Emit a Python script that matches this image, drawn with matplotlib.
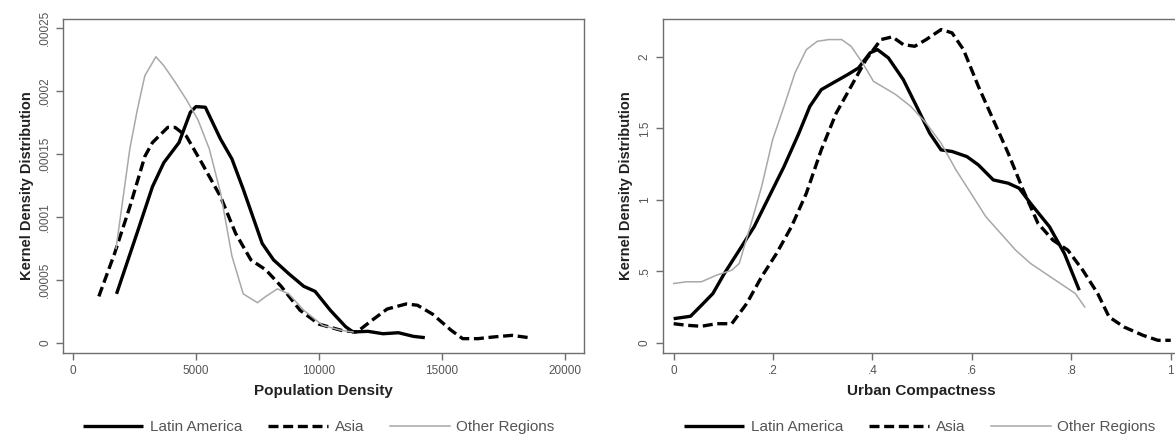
import matplotlib
matplotlib.use("Agg")
import matplotlib.pyplot as plt

plt.rcParams['font.family'] = ['Liberation Sans', 'DejaVu Sans']

# --- Population density (left panel) ---
pd_latin_x = [1770, 2600, 3230, 3690, 4310, 4770, 5000, 5380, 5990, 6460, 6920, 7690,
              8150, 8770, 9380, 9840, 10460, 11080, 11380, 11990, 12600, 13230, 13840, 14300]
pd_latin_y = [3.9e-5, 8.7e-5, 1.24e-4, 1.43e-4, 1.59e-4, 1.83e-4, 1.875e-4, 1.87e-4, 1.62e-4,
              1.46e-4, 1.22e-4, 7.9e-5, 6.6e-5, 5.5e-5, 4.5e-5, 4.1e-5, 2.6e-5, 1.3e-5, 8.8e-6,
              9.3e-6, 7.4e-6, 8.2e-6, 5.3e-6, 4.3e-6]

pd_asia_x = [1050, 1690, 2310, 2920, 3230, 3850, 4150, 4610, 5230, 6000, 6610, 7230, 7840,
             8460, 9230, 10000, 10920, 11540, 12150, 12770, 13540, 14000, 14610, 15380,
             15840, 16460, 17070, 17840, 18530]
pd_asia_y = [3.7e-5, 7.1e-5, 1.08e-4, 1.48e-4, 1.59e-4, 1.71e-4, 1.71e-4, 1.64e-4, 1.43e-4,
             1.16e-4, 8.7e-5, 6.6e-5, 5.8e-5, 4.5e-5, 2.6e-5, 1.5e-5, 1.0e-5, 8.8e-6, 1.8e-5,
             2.7e-5, 3.1e-5, 3.0e-5, 2.3e-5, 1.0e-5, 3.5e-6, 3.5e-6, 4.8e-6, 6.1e-6, 4.3e-6]

pd_other_x = [1750, 2310, 2615, 2920, 3370, 3690, 4150, 4610, 5080, 5540, 6000, 6460, 6920,
              7500, 7840, 8310, 8770, 9380, 10150, 10920, 11380]
pd_other_y = [7.5e-5, 1.54e-4, 1.85e-4, 2.12e-4, 2.27e-4, 2.2e-4, 2.07e-4, 1.93e-4, 1.77e-4,
              1.54e-4, 1.19e-4, 6.9e-5, 3.9e-5, 3.2e-5, 3.7e-5, 4.3e-5, 3.9e-5, 2.6e-5,
              1.4e-5, 1.0e-5, 8.8e-6]

pd_xticks = [0, 5000, 10000, 15000, 20000]
pd_yticks = [0, 0.00005, 0.0001, 0.00015, 0.0002, 0.00025]
pd_ylabels = ["0", ".00005", ".0001", ".00015", ".0002", ".00025"]

# --- Urban compactness (right panel) ---
uc_latin_x = [0, 0.034, 0.056, 0.079, 0.102, 0.132, 0.162, 0.192, 0.222, 0.252, 0.274, 0.297,
              0.320, 0.350, 0.372, 0.395, 0.410, 0.432, 0.462, 0.492, 0.515, 0.538, 0.560,
              0.590, 0.613, 0.643, 0.673, 0.695, 0.718, 0.756, 0.786, 0.816]
uc_latin_y = [0.17, 0.187, 0.264, 0.346, 0.486, 0.649, 0.813, 1.023, 1.233, 1.467, 1.654, 1.771,
              1.817, 1.876, 1.923, 2.028, 2.051, 1.993, 1.841, 1.631, 1.467, 1.350, 1.339,
              1.303, 1.245, 1.140, 1.117, 1.082, 0.976, 0.813, 0.626, 0.369]

uc_asia_x = [0, 0.026, 0.056, 0.086, 0.117, 0.147, 0.177, 0.207, 0.237, 0.267, 0.297, 0.327,
             0.357, 0.387, 0.417, 0.440, 0.462, 0.485, 0.508, 0.538, 0.560, 0.583, 0.613,
             0.643, 0.673, 0.703, 0.733, 0.763, 0.793, 0.823, 0.853, 0.876, 0.906, 0.944,
             0.974, 1.0]
uc_asia_y = [0.135, 0.124, 0.117, 0.135, 0.135, 0.276, 0.463, 0.626, 0.813, 1.047, 1.350, 1.607,
             1.794, 1.981, 2.121, 2.140, 2.086, 2.074, 2.121, 2.191, 2.168, 2.051, 1.794,
             1.560, 1.327, 1.070, 0.836, 0.719, 0.649, 0.509, 0.346, 0.182, 0.112, 0.054,
             0.019, 0.019]

uc_other_x = [0, 0.026, 0.056, 0.086, 0.117, 0.132, 0.154, 0.177, 0.199, 0.222, 0.244, 0.267,
              0.289, 0.312, 0.338, 0.357, 0.380, 0.402, 0.425, 0.447, 0.477, 0.508, 0.538,
              0.568, 0.598, 0.628, 0.658, 0.688, 0.718, 0.748, 0.778, 0.808, 0.827]
uc_other_y = [0.416, 0.428, 0.428, 0.474, 0.509, 0.556, 0.813, 1.093, 1.420, 1.654, 1.887, 2.051,
              2.109, 2.121, 2.121, 2.074, 1.958, 1.829, 1.782, 1.736, 1.654, 1.537, 1.397,
              1.210, 1.047, 0.883, 0.766, 0.649, 0.556, 0.486, 0.416, 0.346, 0.252]

uc_xticks = [0, 0.2, 0.4, 0.6, 0.8, 1.0]
uc_xlabels = ["0", ".2", ".4", ".6", ".8", "1"]
uc_yticks = [0, 0.5, 1, 1.5, 2]
uc_ylabels = ["0", ".5", "1", "1.5", "2"]

series_names = ["Latin America", "Asia", "Other Regions"]

fig = plt.figure(figsize=(11.75, 4.38), dpi=100)
ax1 = fig.add_axes([0.0536, 0.194, 0.4434, 0.763])
ax2 = fig.add_axes([0.564, 0.194, 0.44, 0.763])

frame = "#6e6e6e"
tickc = "#555555"


def style(ax):
    for s in ax.spines.values():
        s.set_color(frame)
        s.set_linewidth(1.0)
    ax.tick_params(direction='out', length=5, width=1, color=frame,
                   labelcolor=tickc, labelsize=8.5)
    ax.set_ylabel("Kernel Density Distribution", fontsize=10.5, color="#222222",
                  fontweight='bold', labelpad=4)


def draw(ax, data):
    (lx, ly), (ax_, ay), (ox, oy) = data
    ax.plot(lx, ly, color="black", lw=2.4, solid_capstyle='butt', label=series_names[0])
    ax.plot(ax_, ay, color="black", lw=2.4, ls=(0, (3, 1.4)), label=series_names[1])
    ax.plot(ox, oy, color="#a8a8a8", lw=1.1, label=series_names[2])


draw(ax1, [(pd_latin_x, pd_latin_y), (pd_asia_x, pd_asia_y), (pd_other_x, pd_other_y)])
ax1.set_xlim(-407, 20770)
ax1.set_ylim(-7.9e-6, 2.571e-4)
ax1.set_xticks(pd_xticks)
ax1.set_xticklabels([str(t) for t in pd_xticks])
ax1.set_yticks(pd_yticks)
ax1.set_yticklabels(pd_ylabels, rotation=90, va='center')
ax1.set_xlabel("Population Density", fontsize=11, color="#222222", fontweight='bold', labelpad=5)
style(ax1)

draw(ax2, [(uc_latin_x, uc_latin_y), (uc_asia_x, uc_asia_y), (uc_other_x, uc_other_y)])
ax2.set_xlim(-0.022, 1.018)
ax2.set_ylim(-0.07, 2.266)
ax2.set_xticks(uc_xticks)
ax2.set_xticklabels(uc_xlabels)
ax2.set_yticks(uc_yticks)
ax2.set_yticklabels(uc_ylabels, rotation=90, va='center')
ax2.set_xlabel("Urban Compactness", fontsize=11, color="#222222", fontweight='bold', labelpad=5)
style(ax2)

# legends sit under each panel, in figure coordinates
for ax, cx in [(ax1, 319 / 1175), (ax2, 920 / 1175)]:
    h, l = ax.get_legend_handles_labels()
    leg = fig.legend(h, l, loc='center', bbox_to_anchor=(cx, 1 - 427 / 438), ncol=3,
                     frameon=False, fontsize=11, handlelength=3.9, columnspacing=1.7,
                     handletextpad=0.45, borderaxespad=0, borderpad=0)
    for t in leg.get_texts():
        t.set_color(tickc)

fig.savefig("out.png", dpi=100)
